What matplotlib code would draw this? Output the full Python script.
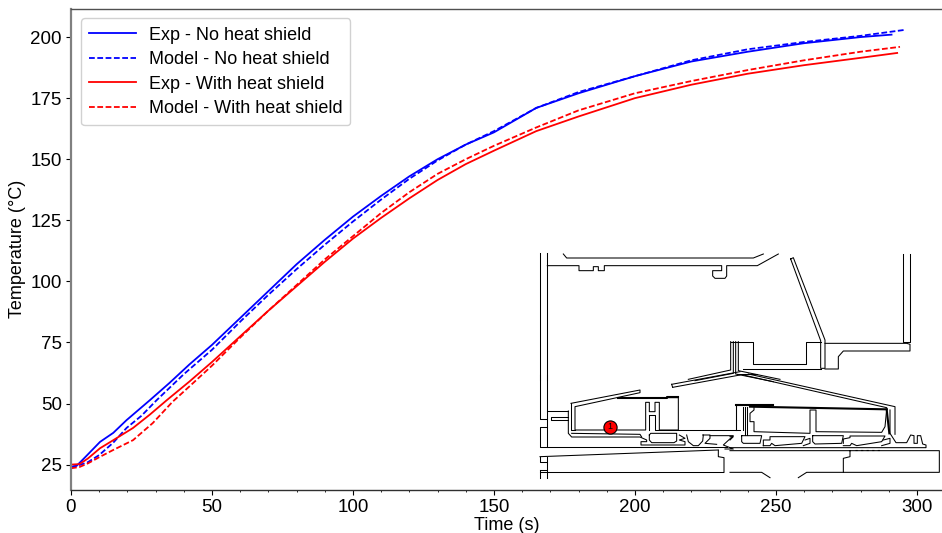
import matplotlib
matplotlib.use("Agg")
import matplotlib.pyplot as plt
import numpy as np

plt.rcParams['font.family'] = ['Liberation Sans', 'DejaVu Sans']

W, H = 942, 533
X_TICKS = [0, 50, 100, 150, 200, 250, 300]
Y_TICKS = [25, 50, 75, 100, 125, 150, 175, 200]

exp_no_t = [0, 2, 5, 10.3, 15, 19.7, 28, 35, 42, 50, 60, 70, 80, 90, 100, 110, 120, 130, 140, 150, 165, 180, 200, 220, 240, 260, 280, 291]
exp_no_T = [24, 24.5, 28, 34.3, 38, 43.2, 51.4, 58.5, 66, 74, 85, 96, 107, 117, 126.5, 135, 143, 150, 156, 161, 171, 177, 184, 190, 194, 197.5, 200, 201]
mod_no_t = [0, 3, 6, 10, 15, 19.7, 25, 30.4, 40, 50, 60, 70, 80, 90, 100, 110, 120, 130, 140, 150, 165, 180, 200, 220, 240, 260, 280, 296]
mod_no_T = [24, 24.8, 26, 28.9, 34, 40, 45, 51.4, 62, 72, 83.5, 94.5, 105, 115, 124.5, 133.5, 142, 149.5, 156, 161.5, 171, 177.5, 184, 190.5, 195, 198, 200.5, 203]
exp_sh_t = [0, 3, 6, 10.3, 15, 22, 28, 34, 42, 50, 60, 70, 80, 90, 100, 110, 120, 130, 140, 150, 165, 180, 200, 220, 240, 260, 280, 293]
exp_sh_T = [25, 25.2, 27.5, 31.7, 35, 40, 45.5, 51.4, 59, 67, 77.5, 88, 98, 108, 117.5, 126, 134, 141.5, 148, 153.5, 161.5, 167.5, 175, 180.5, 185, 188.5, 191.5, 193.5]
mod_sh_t = [0, 3, 6, 10.3, 15, 22, 29, 36, 42, 50, 60, 70, 80, 90, 100, 110, 120, 130, 140, 150, 165, 180, 200, 220, 240, 260, 280, 294]
mod_sh_T = [23.5, 24, 25.5, 28.2, 31, 35, 42, 50.7, 57, 65.5, 77, 88, 98.5, 109, 118.5, 128, 136.5, 144, 150, 155.5, 163, 170, 177, 182, 186.5, 190.5, 194, 196]
SERIES_LABELS = ['Exp - No heat shield', 'Model - No heat shield', 'Exp - With heat shield', 'Model - With heat shield']

# Schematic outlines, zoom-crop coordinates grouped by crop origin (3x scale)
SK1 = (530, 250, [
 [(30,10),(30,390)], [(52,10),(52,390)],
 [(52,47),(147,47),(147,62),(190,62),(190,50),(205,50),(205,62),(223,62),(223,47),(575,47),(575,62),(548,62),(548,78),(555,85),(585,85),(590,78),(590,47),(682,47),(745,12)],
 [(100,12),(110,24),(670,24),(700,12)],
 [(782,27),(790,23),(885,270),(885,355),(872,355),(872,272),(782,27)],
 [(1118,12),(1118,277),(1140,277),(1140,12)],
 [(602,275),(602,360),(475,388)], [(610,275),(610,370),(495,392)],
 [(602,275),(668,275),(668,343),(828,343),(828,275),(872,275)],
 [(625,275),(625,362),(750,388)], [(617,275),(617,372),(730,395)],
 [(640,357),(872,357)],
 [(885,357),(925,357),(925,320),(940,303),(1140,303),(1140,283),(1130,280),(885,280)],
])
SK2 = (530, 375, [
 [(30,0),(30,133),(52,133)], [(52,0),(52,217)],
 [(52,157),(30,157),(30,217),(333,217)],
 [(52,108),(115,108)], [(115,127),(62,127),(62,135),(115,135)],
 [(425,28),(630,-10)], [(428,37),(630,0)], [(425,28),(428,37)],
 [(123,85),(330,45),(330,53),(135,95),(135,165),(347,165),(347,82),(358,82),(358,110),(375,110),(375,82),(388,82),(388,165),(445,165),(445,68),(410,68)],
 [(358,120),(375,120),(375,165),(630,165)], [(358,120),(358,165)],
 [(123,85),(123,165),(135,165)],
 [(115,108),(115,175),(125,186),(330,186),(350,195),(350,200),(333,200),(333,210),(465,210),(465,200),(448,195),(465,190),(448,180)],
 [(125,175),(330,178),(335,186)],
 [(358,180),(362,175),(440,175),(440,198),(432,203),(365,203),(358,195),(358,180)],
 [(333,217),(590,217)],
 [(470,180),(475,200),(490,212),(505,212),(518,198),(520,180)],
 [(518,180),(540,180),(540,190),(525,205),(560,208)],
 [(540,182),(610,182),(580,210),(610,222),(585,222)],
 [(30,245),(565,225)], [(30,245),(30,262),(52,262)], [(52,245),(52,310)],
 [(30,285),(52,285)], [(30,285),(30,308)], [(30,292),(580,292)],
 [(565,226),(565,245),(582,248),(582,292)],
 [(617,165),(617,88),(630,88)],
])
SK2_THICK = (530, 375, [[(265,70),(410,70),(410,65),(445,65)]])
SK3 = (730, 375, [
 [(18,165),(18,90),(60,90)],
 [(38,97),(38,165)], [(45,97),(45,180)], [(52,97),(52,180)],
 [(72,97),(72,105),(60,115),(60,140),(72,140),(72,170),(240,175),(240,105),(258,105),(258,170),(455,172),(465,155),(470,103)],
 [(55,-3),(495,95),(495,178)], [(20,-3),(80,-3)], [(40,0),(470,98)],
 [(480,105),(480,175),(498,203),(530,203),(542,180),(552,182),(552,205),(562,205),(562,182),(572,182),(578,207),(588,210),(588,218),(0,218)],
 [(0,227),(628,227),(628,292),(340,292),(340,250),(360,245),(360,227)],
 [(0,292),(95,292),(120,308)], [(205,308),(230,292),(340,292)],
 [(100,212),(100,195),(120,195),(120,185),(225,185),(215,205),(135,212),(125,205),(120,212),(100,212)],
 [(225,195),(240,190),(240,205),(220,212)],
 [(35,182),(95,182),(90,205),(40,205),(35,200),(35,182)],
 [(248,182),(340,182),(335,205),(255,207),(248,200),(248,182)],
 [(340,205),(340,192),(360,188),(360,183),(465,183),(455,200),(380,212),(365,205),(360,212),(340,212)],
 [(460,195),(480,190),(480,205),(455,212)],
 [(0,185),(10,185),(0,195)],
])
SK3_THICK = (730, 375, [[(18,90),(130,90)], [(60,95),(470,103)], [(470,103),(478,175)]])
SK3_DOTS = (730, 375, [[(375,225),(450,225)]])
SENSOR_XY = (610, 426.5)
SENSOR_LABEL = '1'

fig = plt.figure(figsize=(W/100, H/100), dpi=100)
L, R, T, B = 71, 942, 8.5, 490
ax = fig.add_axes([L/W, 1-B/H, (R-L)/W, (B-T)/H])

ax.plot(exp_no_t, exp_no_T, color='blue', lw=1.3, label=SERIES_LABELS[0])
ax.plot(mod_no_t, mod_no_T, color='blue', lw=1.3, ls=(0, (3.2, 1.4)), label=SERIES_LABELS[1])
ax.plot(exp_sh_t, exp_sh_T, color='red', lw=1.3, label=SERIES_LABELS[2])
ax.plot(mod_sh_t, mod_sh_T, color='red', lw=1.3, ls=(0, (3.2, 1.4)), label=SERIES_LABELS[3])

ax.set_xlim(0, 308.9)
ax.set_ylim(14.6, 211.7)
ax.set_xticks(X_TICKS)
ax.set_yticks(Y_TICKS)
ax.set_xticks(np.arange(0, 305, 10), minor=True)
ax.tick_params(axis='both', which='major', labelsize=13.5, length=3.5, width=0.8, pad=3)
ax.tick_params(axis='x', which='minor', length=1.5, width=0.6)
ax.set_xlabel('Time (s)', fontsize=13, labelpad=1)
ax.set_ylabel('Temperature (°C)', fontsize=13, labelpad=3)
ax.spines['right'].set_visible(False)
ax.spines['left'].set_color('#808080')
ax.spines['left'].set_linewidth(1.6)
ax.spines['top'].set_color('#505050')
ax.spines['top'].set_linewidth(1.0)
ax.spines['bottom'].set_color('#303030')
ax.spines['bottom'].set_linewidth(1.0)

ax.legend(loc='upper left', bbox_to_anchor=(0.0, 1.0), fontsize=13, frameon=True, borderaxespad=0.55,
          labelspacing=0.42, handlelength=2.6, handletextpad=0.7, borderpad=0.45, fancybox=True, framealpha=0.9)

ov = fig.add_axes([0, 0, 1, 1], facecolor='none')
ov.set_xlim(0, W)
ov.set_ylim(H, 0)
ov.axis('off')

def draw(group, lw, **kw):
    ox, oy, lines = group
    for pl in lines:
        a = np.array(pl, dtype=float)
        ov.plot(ox + a[:, 0]/3, oy + a[:, 1]/3, color='black', lw=lw, solid_joinstyle='round', **kw)

draw(SK1, 0.75)
draw(SK2, 0.75)
draw(SK3, 0.75)
draw(SK2_THICK, 1.5)
draw(SK3_THICK, 1.5)
ox, oy, dl = SK3_DOTS
a = np.array(dl[0], dtype=float)
ov.plot(ox + a[:, 0]/3, oy + a[:, 1]/3, color='black', lw=0.8, ls=(0, (2, 3)))

ov.plot([SENSOR_XY[0]], [SENSOR_XY[1]], 'o', ms=9.5, mfc='red', mec='black', mew=0.8)
ov.text(SENSOR_XY[0], SENSOR_XY[1], SENSOR_LABEL, ha='center', va='center', fontsize=6.5, color='black')

fig.savefig('out.png', dpi=100)
